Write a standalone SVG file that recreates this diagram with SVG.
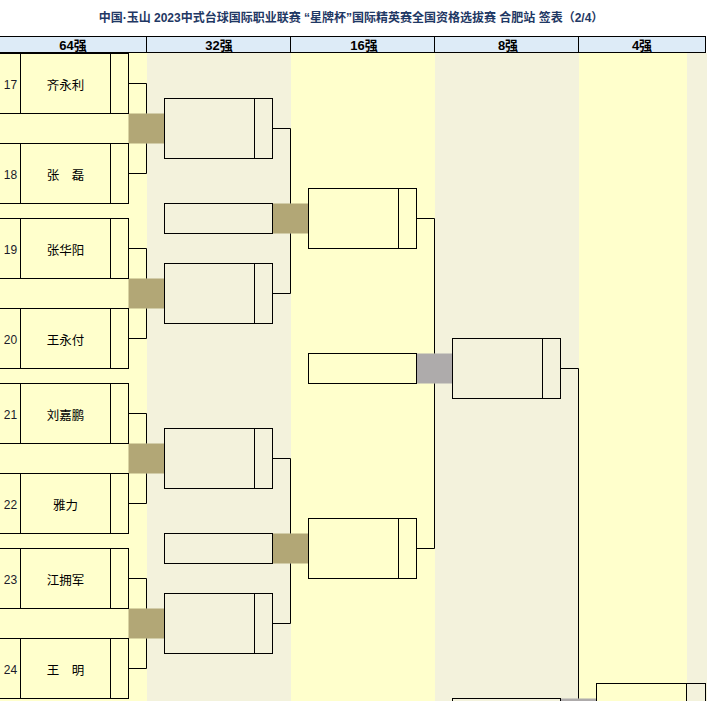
<svg xmlns="http://www.w3.org/2000/svg" width="707" height="701" viewBox="0 0 707 701">
<style>
.ln{fill:none;stroke:#000;stroke-width:1}
.bx{fill:none;stroke:#000;stroke-width:1}
.kh{fill:#B2A776}
.gy{fill:#AEABAB}
.nm{font-family:"Liberation Sans","Noto Sans CJK SC",sans-serif;font-size:12.5px;fill:#000;text-anchor:middle}
.no{font-family:"Liberation Sans","Noto Sans CJK SC",sans-serif;font-size:12px;fill:#1a1a2a;text-anchor:middle}
.hd{font-family:"Liberation Sans","Noto Sans CJK SC",sans-serif;font-size:13px;font-weight:bold;fill:#000;text-anchor:middle}
.tt{font-family:"Liberation Sans","Noto Sans CJK SC",sans-serif;font-size:12px;font-weight:bold;fill:#1F3864;text-anchor:middle}
</style>
<rect x="0" y="0" width="707" height="701" fill="#fff"/>
<g id="background">
<rect x="0" y="53" width="147" height="648" fill="#FFFFCC"/>
<rect x="147" y="53" width="144" height="648" fill="#F3F2DC"/>
<rect x="291" y="53" width="144" height="648" fill="#FFFFCC"/>
<rect x="435" y="53" width="144" height="648" fill="#F3F2DC"/>
<rect x="579" y="53" width="108" height="648" fill="#FFFFCC"/>
<rect x="687" y="53" width="20" height="648" fill="#F3F2DC"/>
</g>
<text id="title" class="tt" x="351" y="22">中国·玉山 2023中式台球国际职业联赛 “星牌杯”国际精英赛全国资格选拔赛 合肥站 签表（2/4）</text>
<g id="header">
<rect x="-1" y="36.5" width="706.5" height="16" fill="#DDEBF7" stroke="#000" stroke-width="1"/>
<path class="ln" d="M146.5 36.5V52.5M290.5 36.5V52.5M434.5 36.5V52.5M578.5 36.5V52.5"/>
<text class="hd" x="73" y="50">64强</text>
<text class="hd" x="219" y="50">32强</text>
<text class="hd" x="364" y="50">16强</text>
<text class="hd" x="508" y="50">8强</text>
<text class="hd" x="642" y="50">4强</text>
</g>
<g id="bands">
<rect class="kh" x="128.5" y="113.5" width="36" height="30"/>
<rect class="kh" x="128.5" y="278.5" width="36" height="30"/>
<rect class="kh" x="128.5" y="443.5" width="36" height="30"/>
<rect class="kh" x="128.5" y="608.5" width="36" height="30"/>
<rect class="kh" x="272.5" y="203.5" width="36" height="30"/>
<rect class="kh" x="272.5" y="533.5" width="36" height="30"/>
<rect class="gy" x="416.5" y="353.5" width="36" height="30"/>
<rect class="gy" x="560.5" y="698.5" width="36" height="30"/>
</g>
<g id="connectors">
<path class="ln" d="M128.5 83.5H146.5V113.5M146.5 143.5V173.5H128.5"/>
<path class="ln" d="M128.5 248.5H146.5V278.5M146.5 308.5V338.5H128.5"/>
<path class="ln" d="M128.5 413.5H146.5V443.5M146.5 473.5V503.5H128.5"/>
<path class="ln" d="M128.5 578.5H146.5V608.5M146.5 638.5V668.5H128.5"/>
<path class="ln" d="M272.5 128.5H290.5V203.5M290.5 233.5V293.5H272.5"/>
<path class="ln" d="M272.5 458.5H290.5V533.5M290.5 563.5V623.5H272.5"/>
<path class="ln" d="M416.5 218.5H434.5V353.5M434.5 383.5V548.5H416.5"/>
<path class="ln" d="M560.5 368.5H578.5V698.5"/>
</g>
<g id="p17"><rect class="bx" x="-1" y="53.5" width="129.5" height="60"/><path class="ln" d="M20.5 53.5V113.5M110.5 53.5V113.5"/><text class="no" x="10.5" y="89">17</text><text class="nm" x="65.5" y="89.5">齐永利</text></g>
<g id="p18"><rect class="bx" x="-1" y="143.5" width="129.5" height="60"/><path class="ln" d="M20.5 143.5V203.5M110.5 143.5V203.5"/><text class="no" x="10.5" y="179">18</text><text class="nm" x="65.5" y="179.5">张　磊</text></g>
<g id="p19"><rect class="bx" x="-1" y="218.5" width="129.5" height="60"/><path class="ln" d="M20.5 218.5V278.5M110.5 218.5V278.5"/><text class="no" x="10.5" y="254">19</text><text class="nm" x="65.5" y="254.5">张华阳</text></g>
<g id="p20"><rect class="bx" x="-1" y="308.5" width="129.5" height="60"/><path class="ln" d="M20.5 308.5V368.5M110.5 308.5V368.5"/><text class="no" x="10.5" y="344">20</text><text class="nm" x="65.5" y="344.5">王永付</text></g>
<g id="p21"><rect class="bx" x="-1" y="383.5" width="129.5" height="60"/><path class="ln" d="M20.5 383.5V443.5M110.5 383.5V443.5"/><text class="no" x="10.5" y="419">21</text><text class="nm" x="65.5" y="419.5">刘嘉鹏</text></g>
<g id="p22"><rect class="bx" x="-1" y="473.5" width="129.5" height="60"/><path class="ln" d="M20.5 473.5V533.5M110.5 473.5V533.5"/><text class="no" x="10.5" y="509">22</text><text class="nm" x="65.5" y="509.5">雅力</text></g>
<g id="p23"><rect class="bx" x="-1" y="548.5" width="129.5" height="60"/><path class="ln" d="M20.5 548.5V608.5M110.5 548.5V608.5"/><text class="no" x="10.5" y="584">23</text><text class="nm" x="65.5" y="584.5">江拥军</text></g>
<g id="p24"><rect class="bx" x="-1" y="638.5" width="129.5" height="60"/><path class="ln" d="M20.5 638.5V698.5M110.5 638.5V698.5"/><text class="no" x="10.5" y="674">24</text><text class="nm" x="65.5" y="674.5">王　明</text></g>
<g id="r32a"><rect class="bx" x="164.5" y="98.5" width="108" height="60"/><path class="ln" d="M254.5 98.5V158.5"/></g>
<g id="r32b"><rect class="bx" x="164.5" y="203.5" width="108" height="30"/></g>
<g id="r32c"><rect class="bx" x="164.5" y="263.5" width="108" height="60"/><path class="ln" d="M254.5 263.5V323.5"/></g>
<g id="r32d"><rect class="bx" x="164.5" y="428.5" width="108" height="60"/><path class="ln" d="M254.5 428.5V488.5"/></g>
<g id="r32e"><rect class="bx" x="164.5" y="533.5" width="108" height="30"/></g>
<g id="r32f"><rect class="bx" x="164.5" y="593.5" width="108" height="60"/><path class="ln" d="M254.5 593.5V653.5"/></g>
<g id="r16a"><rect class="bx" x="308.5" y="188.5" width="108" height="60"/><path class="ln" d="M398.5 188.5V248.5"/></g>
<g id="r16b"><rect class="bx" x="308.5" y="353.5" width="108" height="30"/></g>
<g id="r16c"><rect class="bx" x="308.5" y="518.5" width="108" height="60"/><path class="ln" d="M398.5 518.5V578.5"/></g>
<g id="r8a"><rect class="bx" x="452.5" y="338.5" width="108" height="60"/><path class="ln" d="M542.5 338.5V398.5"/></g>
<g id="r8b"><rect class="bx" x="452.5" y="698.5" width="108" height="30"/></g>
<g id="r4a"><rect class="bx" x="596.5" y="683.5" width="109" height="60"/><path class="ln" d="M686.5 683.5V743.5"/></g>
</svg>
